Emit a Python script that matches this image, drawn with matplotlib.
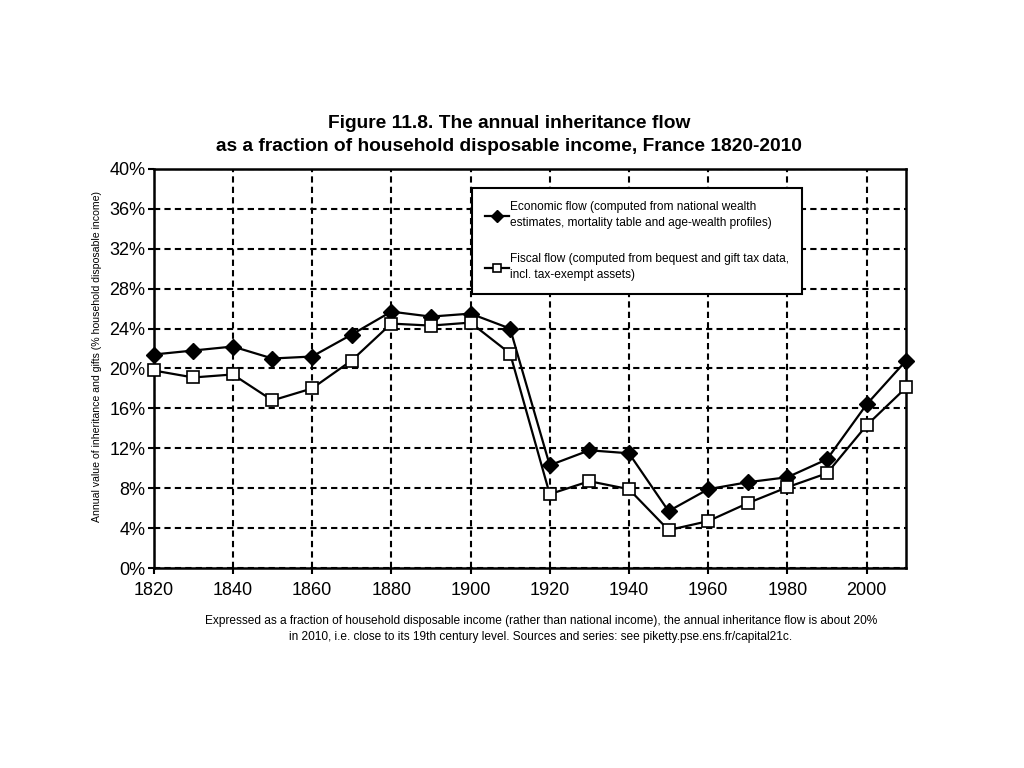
import numpy as np
import matplotlib.pyplot as plt
from matplotlib.ticker import FuncFormatter

plt.rcParams['font.family'] = ['Liberation Sans', 'DejaVu Sans']

# data (percent of household disposable income)
years = [1820, 1830, 1840, 1850, 1860, 1870, 1880, 1890, 1900, 1910,
         1920, 1930, 1940, 1950, 1960, 1970, 1980, 1990, 2000, 2010]
economic_flow = [21.4, 21.8, 22.2, 21.0, 21.2, 23.4, 25.7, 25.2, 25.5, 24.0,
                 10.3, 11.8, 11.5, 5.7, 7.9, 8.6, 9.1, 10.9, 16.4, 20.8]
fiscal_flow = [19.8, 19.1, 19.4, 16.8, 18.0, 20.8, 24.5, 24.3, 24.6, 21.5,
               7.4, 8.7, 7.9, 3.8, 4.7, 6.5, 8.1, 9.5, 14.3, 18.1]

econ_label = ("Economic flow (computed from national wealth\n"
              "estimates, mortality table and age-wealth profiles)")
fisc_label = ("Fiscal flow (computed from bequest and gift tax data,\n"
              "incl. tax-exempt assets)")

fig = plt.figure(figsize=(10.24, 7.68), dpi=100)
ax = fig.add_axes([0.150, 0.2604, 0.735, 0.5196])

ax.plot(years, economic_flow, color='black', lw=1.6, marker='D', ms=8,
        mfc='black', mec='black', label=econ_label, zorder=3, clip_on=False)
ax.plot(years, fiscal_flow, color='black', lw=1.6, marker='s', ms=8.5,
        mfc='white', mec='black', mew=1.2, label=fisc_label, zorder=3,
        clip_on=False)

ax.set_xlim(1820, 2010)
ax.set_ylim(0, 40)
ax.set_xticks(np.arange(1820, 2001, 20))
ax.set_yticks(np.arange(0, 41, 4))
ax.yaxis.set_major_formatter(FuncFormatter(lambda v, p: '%d%%' % v))
ax.grid(True, color='black', ls=(0, (3, 2)), lw=1.5)
ax.set_axisbelow(True)
for s in ax.spines.values():
    s.set_linewidth(1.8)
ax.tick_params(direction='out', length=4, width=1.5, labelsize=13)
ax.tick_params(axis='x', pad=6)
ax.tick_params(axis='y', pad=2)

ax.set_ylabel('Annual value of inheritance and gifts (% household disposable income)',
              fontsize=7.6)
ax.yaxis.set_label_coords(-0.068, 0.53)

leg = ax.legend(loc='upper left', bbox_to_anchor=(0.423, 0.952), fontsize=8.6,
                frameon=True, fancybox=False, edgecolor='black', framealpha=1,
                handlelength=2.0, handletextpad=0.1, borderpad=1.1,
                labelspacing=2.0, borderaxespad=0)
leg.get_frame().set_linewidth(1.5)
leg.set_zorder(5)
for t in leg.get_texts():
    t.set_linespacing(1.45)
for h in leg.legend_handles:
    h.set_markersize(6)

fig.text(0.497, 0.824, 'Figure 11.8. The annual inheritance flow\n'
         'as a fraction of household disposable income, France 1820-2010',
         ha='center', va='center', fontsize=13.8, fontweight='bold', linespacing=1.45)

fig.text(0.528, 0.181,
         'Expressed as a fraction of household disposable income (rather than national income), '
         'the annual inheritance flow is about 20%\n'
         'in 2010, i.e. close to its 19th century level. Sources and series: see piketty.pse.ens.fr/capital21c.',
         ha='center', va='center', fontsize=8.6, linespacing=1.45)

fig.savefig('out.png', dpi=100)
